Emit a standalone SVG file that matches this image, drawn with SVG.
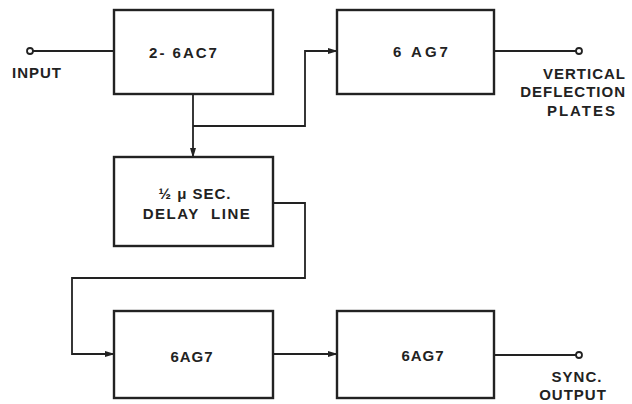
<svg xmlns="http://www.w3.org/2000/svg" width="632" height="404" viewBox="0 0 632 404">
<defs>
<marker id="ah" markerWidth="10" markerHeight="8" refX="9" refY="4" orient="auto" markerUnits="userSpaceOnUse">
<path d="M0,1 L10,4 L0,7 Z" fill="#222"/>
</marker>
<style>
.box{fill:#fff;stroke:#222;stroke-width:2.4}
.ln{fill:none;stroke:#222;stroke-width:1.8}
.term{fill:#fff;stroke:#222;stroke-width:1.8}
text{font-family:"Liberation Sans",Arial,sans-serif;font-size:15px;font-weight:bold;fill:#222;letter-spacing:1px}
.c{text-anchor:middle}
</style>
</defs>
<rect width="632" height="404" fill="#fff"/>
<g id="connectors">
<line class="ln" x1="33" y1="51" x2="114" y2="51"/>
<polyline class="ln" points="193,94 193,157" marker-end="url(#ah)"/>
<polyline class="ln" points="193,126 305,126 305,51 337,51" marker-end="url(#ah)"/>
<line class="ln" x1="494" y1="51" x2="576" y2="51"/>
<polyline class="ln" points="273,203 305,203 305,278 72,278 72,354 114,354" marker-end="url(#ah)"/>
<line class="ln" x1="273" y1="354" x2="337" y2="354" marker-end="url(#ah)"/>
<line class="ln" x1="494" y1="355" x2="576" y2="355"/>
</g>
<g id="input">
<circle class="term" cx="30" cy="51" r="3"/>
<text x="12" y="78">INPUT</text>
</g>
<g id="amp1">
<rect class="box" x="114" y="10" width="159" height="84"/>
<text class="c" x="184" y="58" style="letter-spacing:2px">2- 6AC7</text>
</g>
<g id="amp2">
<rect class="box" x="337" y="10" width="157" height="84"/>
<text class="c" x="422" y="57" style="letter-spacing:3px">6 AG7</text>
</g>
<g id="vdp">
<circle class="term" cx="579" cy="51" r="3"/>
<text x="626" y="79" text-anchor="end">VERTICAL</text>
<text x="626" y="97" text-anchor="end">DEFLECTION</text>
<text x="617" y="116" text-anchor="end" style="letter-spacing:2px">PLATES</text>
</g>
<g id="delay">
<rect class="box" x="114" y="157" width="159" height="89"/>
<text class="c" x="195" y="199">½ μ SEC.</text>
<text class="c" x="197" y="219" style="letter-spacing:1.5px">DELAY&#160;&#160;LINE</text>
</g>
<g id="amp3">
<rect class="box" x="114" y="311" width="159" height="87"/>
<text class="c" x="192" y="362">6AG7</text>
</g>
<g id="amp4">
<rect class="box" x="337" y="311" width="157" height="87"/>
<text class="c" x="423" y="361">6AG7</text>
</g>
<g id="sync">
<circle class="term" cx="579" cy="355" r="3"/>
<text x="577" y="382" text-anchor="middle">SYNC.</text>
<text x="573" y="400" text-anchor="middle">OUTPUT</text>
</g>
</svg>
